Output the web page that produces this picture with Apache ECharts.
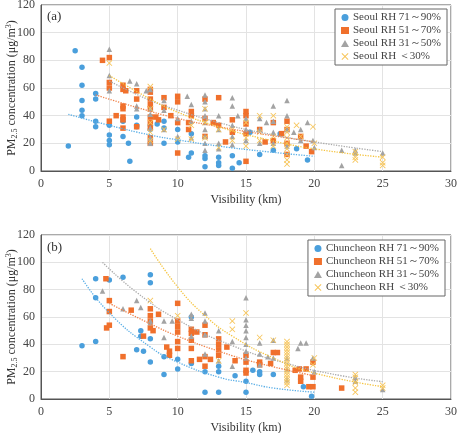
<!DOCTYPE html>
<html>
<head>
<meta charset="utf-8">
<script src="https://cdn.jsdelivr.net/npm/echarts@6/dist/echarts.min.js"></script>
<style>
  html, body { margin: 0; padding: 0; background: #fff; }
  #chart { width: 460px; height: 433px; }
</style>
</head>
<body>
<div id="chart"></div>
<script>
// (a) Seoul, [visibility km, PM2.5]
const seoulRh71 = [[2,18],[2.5,87],[3,75],[3,62],[3,51],[3,44],[3,40],[4,56],[4,52],[4,36],[4,32],[5,33],[5,26],[5,22],[5,19],[6,36],[6,25],[6.4,20],[6.5,7],[7,39],[7,33],[7,32],[8,33],[8,30],[8,20],[8.5,34],[9,31],[9,20],[9,36],[10,21],[10,30],[10.8,10],[11,13],[11,27],[12,3],[12,9],[12,11],[13,4],[13,6],[13,10],[14,2],[14,11],[14.5,6],[15.3,28],[16,12],[17,15],[17.5,27],[18.7,16],[19.5,8]];
const seoulRh51 = [[4.5,80],[5,82],[5,64],[5,60],[5,36],[5.5,40],[6,62],[6,59],[6.2,58],[6,47],[6,45],[6,39],[6,37],[6,31],[7,58],[7,52],[7,32],[8,59],[8,57],[8,52],[8,48],[8,45],[8,39],[8,35],[8,31],[8,24],[8,20],[8.4,39],[8.6,37],[9,53],[9,46],[9.5,40],[10,54],[10,50],[10,35],[10,13],[10.8,35],[10.8,30],[11,40],[11,43],[12,52],[12,38],[12,25],[12.6,35],[13,53],[13,33],[13.5,21],[14,37],[14,28],[15,43],[15,40],[15,34],[15,27],[15,7],[16,30],[16.4,21],[17,35],[17,22],[17.6,27],[18,36],[18,30],[18,20],[18,12],[19,25],[19.4,18],[19.8,14]];
const seoulRh31 = [[5,88],[5,69],[5,58],[6.5,65],[7,63],[7,47],[7,45],[7.7,58],[8,59],[8,45],[8,41],[8,31],[8,24],[8,20],[9,51],[9,44],[9,30],[10,38],[10,25],[10.7,54],[11,48],[11,36],[11,24],[12,55],[12,50],[12,45],[12,40],[12,35],[12,30],[12,25],[12,20],[12,15],[13,40],[13,30],[13,20],[13,16],[14,53],[14,47],[14,33],[14,25],[14,19],[14.4,40],[15,38],[15,30],[15,22],[16,38],[16,30],[16,20],[16.5,35],[17,47],[17,36],[17,28],[17,20],[18,51],[18,40],[18,30],[18,18],[18.5,28],[19,30],[19,22],[19.5,35],[19.9,22],[20,17],[22,15],[22,4],[23,15],[23,13],[25,13]];
const seoulRh30 = [[5,78],[8,61],[8,45],[8,35],[8,28],[8,22],[9,30],[10,23],[11,23],[11,33],[12,45],[12,35],[12,24],[13,30],[13,17],[14,30],[14,22],[15,35],[15,24],[15,18],[16,40],[16,28],[16,22],[17,40],[17,25],[17,18],[18,32],[18,28],[18,24],[18,20],[18,16],[18,12],[18,8],[18,5],[18.7,33],[19,25],[19.9,32],[20,20],[23,14],[23,10],[23,8],[25,10],[25,6],[25,4]];

// (a) trend lines
const seoulFit71 = [[2,41],[5,33],[8,26],[10,22.5],[13,18],[16,14.5],[20,10.6]];
const seoulFit51 = [[4,55],[7,46],[10,38],[13,32],[16,27],[20,21]];
const seoulFit31 = [[5,65],[8,51],[10,44],[13,35],[16,28],[20,21],[25,14]];
const seoulFit30 = [[5,69],[8,52],[10,42.5],[13,32],[16,24],[20,16],[25,10]];

// (b) Chuncheon
const chunRh71 = [[3,39],[4,88],[4,74],[4,42],[5,87],[6,89],[7,36],[7.3,50],[7.3,46],[7.5,35],[8,91],[8,85],[8,44],[8,27],[9,31],[9,18],[10,29],[10,22],[11,60],[11,26],[12,20],[12,5],[13,24],[13,20],[13,5],[14.2,17],[15,13],[15,5],[15.5,21],[16,20],[16,18],[17,18],[19.2,9],[19.8,2]];
const chunRh51 = [[4.75,88],[4.8,52],[5,72],[5,64],[5,54],[6,31],[6.6,65],[7.5,46],[8,66],[8,61],[8,57],[8,52],[8.2,50],[8.6,62],[9.2,38],[9.4,35],[9.4,32],[10,70],[10,57],[10,53],[10,49],[10,42],[10,37],[11,51],[11,48],[11,43],[11,37],[11,28],[11.4,49],[11.6,29],[12,54],[12,47],[12,31],[12,24],[12.4,29],[13,44],[13,40],[13,36],[13,32],[13.6,38],[14.2,28],[15,32],[15,27],[15,21],[15,19],[16,27],[16,25],[16.8,26],[17,34],[17.3,34],[18.6,21],[18.9,22],[19,16],[19,13],[19.4,22],[19.6,9],[19.9,27],[19.9,16],[19.9,9],[22,8]];
const chunRh31 = [[4.5,79],[6,66],[7,72],[7.3,67],[8,57],[8,56],[9,57],[9,45],[9.6,57],[11,62],[11,59],[11,46],[12,63],[12,57],[12,47],[12,33],[13,50],[13,28],[14,42],[14,24],[15,74],[15,58],[15,54],[15,50],[15,45],[15,40],[15,35],[15,30],[16,41],[16,33],[16,25],[16.6,31],[17,43],[17,30],[18,30],[18,22],[18,14],[18.8,37],[19,41],[19.4,41],[19.9,30],[20,20],[23,16],[23,13],[25,7]];
const chunRh30 = [[8,72],[10,61],[13,28],[14,57],[14,51],[15,63],[16,45],[17,43],[18,42],[18,40],[18,38],[18,36],[18,34],[18,32],[18,30],[18,28],[18,26],[18,24],[18,22],[18,20],[18,18],[18,16],[18,14],[18,12],[18,10],[19.9,25],[20,30],[23,18],[23,16],[23,12],[23,8],[23,5],[25,10],[25,8]];

const chunFit71 = [[3,88],[5,63],[8,38],[10,27],[13,16],[15,12],[17,8],[20,5]];
const chunFit51 = [[5,70],[8,55],[10,46],[13,35],[16,26],[20,17]];
const chunFit31 = [[4.5,100],[7,78],[10,58],[14,39],[18,26],[22,17],[25,12.7]];
const chunFit30 = [[8,110],[10,82],[12,61],[14,46],[17,30],[20,19],[25,9]];

const rhLabels = ['RH 71～90%', 'RH 51～70%', 'RH 31～50%', 'RH ＜30%'];
const colors = ['#4a9fdc', '#f0702c', '#a3a3a3', '#f7c55a'];
const fitColors = ['#5aaee6', '#f0824a', '#aaaaaa', '#f5c440'];
const crossPath = 'path://M1,0L5,4L9,0L10,1L6,5L10,9L9,10L5,6L1,10L0,9L4,5L0,1Z';
const symbols = ['circle', 'rect', 'triangle', crossPath];
const symbolSizes = [5.5, 5.5, 5.5, 6];
const font = "'Liberation Serif', 'Times New Roman', serif";

const chart = echarts.init(document.getElementById('chart'));

function makeAxes(idx) {
  const xAxis = {
    gridIndex: idx, type: 'value', min: 0, max: 30, interval: 5,
    name: 'Visibility (km)', nameLocation: 'middle', nameGap: 23,
    nameTextStyle: { fontFamily: font, fontSize: 12, color: '#333' },
    axisLine: { show: true, lineStyle: { color: '#555' } },
    axisTick: { show: false },
    axisLabel: { fontFamily: font, fontSize: 12, color: '#444', margin: 7 },
    splitLine: { show: true, lineStyle: { color: '#e3e3e3' } }
  };
  const yAxis = {
    gridIndex: idx, type: 'value', min: 0, max: 120, interval: 20,
    axisLine: { show: true, lineStyle: { color: '#555' } },
    axisTick: { show: false },
    axisLabel: { fontFamily: font, fontSize: 12, color: '#444', margin: 6 },
    splitLine: { show: true, lineStyle: { color: '#e3e3e3' } }
  };
  return [xAxis, yAxis];
}

const [xa, ya] = makeAxes(0);
const [xb, yb] = makeAxes(1);

// rotated y-axis title with sub/superscript
const yTitleRich = {
  a: { fontFamily: font, fontSize: 12, fill: '#333', lineHeight: 14 },
  b: { fontFamily: font, fontSize: 8, fill: '#333', verticalAlign: 'bottom', lineHeight: 14 },
  c: { fontFamily: font, fontSize: 8, fill: '#333', verticalAlign: 'top', lineHeight: 14 }
};
function yTitle(cy) {
  return {
    type: 'text', x: 12, y: cy, rotation: Math.PI / 2,
    style: {
      text: '{a|PM}{b|2.5}{a| concentration (μg/m}{c|3}{a|)}',
      rich: yTitleRich, align: 'center', verticalAlign: 'middle'
    }
  };
}

function scatterSeries(name, data, k, idx) {
  return {
    name: name, type: 'scatter', xAxisIndex: idx, yAxisIndex: idx,
    data: data, symbol: symbols[k], symbolSize: symbolSizes[k],
    itemStyle: { color: colors[k], opacity: 1 }, z: 3
  };
}
function fitSeries(data, k, idx) {
  return {
    type: 'line', xAxisIndex: idx, yAxisIndex: idx, data: data,
    smooth: true, showSymbol: false, silent: true, z: 4,
    lineStyle: { color: fitColors[k], width: 1.3, type: 'dotted' }
  };
}

const seoulSets = [seoulRh71, seoulRh51, seoulRh31, seoulRh30];
const seoulFits = [seoulFit71, seoulFit51, seoulFit31, seoulFit30];
const chunSets = [chunRh71, chunRh51, chunRh31, chunRh30];
const chunFits = [chunFit71, chunFit51, chunFit31, chunFit30];

const series = [];
const seoulNames = rhLabels.map(l => 'Seoul ' + l);
const chunNames = rhLabels.map(l => 'Chuncheon ' + l);
seoulSets.forEach((d, k) => series.push(scatterSeries(seoulNames[k], d, k, 0)));
chunSets.forEach((d, k) => series.push(scatterSeries(chunNames[k], d, k, 1)));
seoulFits.forEach((d, k) => series.push(fitSeries(d, k, 0)));
chunFits.forEach((d, k) => series.push(fitSeries(d, k, 1)));

const legendBase = {
  orient: 'vertical', itemWidth: 8, itemHeight: 7, itemGap: 2,
  borderColor: '#666', borderWidth: 1, borderRadius: 0,
  backgroundColor: '#fff', padding: [3, 6, 3, 6],
  textStyle: { fontFamily: font, fontSize: 11, color: '#444', padding: [0, 0, 0, -1] }
};

const option = {
  animation: false,
  grid: [
    { left: 41, right: 9, top: 5, height: 166, show: true, borderColor: '#555', borderWidth: 1, outerBoundsMode: 'none', containLabel: false },
    { left: 41, right: 9, top: 235, height: 164, show: true, borderColor: '#555', borderWidth: 1, outerBoundsMode: 'none', containLabel: false }
  ],
  xAxis: [xa, xb],
  yAxis: [ya, yb],
  legend: [
    Object.assign({}, legendBase, { data: seoulNames, right: 13, top: 9 }),
    Object.assign({}, legendBase, { data: chunNames, right: 15, top: 240 })
  ],
  graphic: [
    { type: 'text', left: 47, top: 10, style: { text: '(a)', font: '13px ' + font, fill: '#333' } },
    { type: 'text', left: 47, top: 241, style: { text: '(b)', font: '13px ' + font, fill: '#333' } },
    yTitle(88),
    yTitle(317)
  ],
  series: series
};

chart.setOption(option);
</script>
</body>
</html>
